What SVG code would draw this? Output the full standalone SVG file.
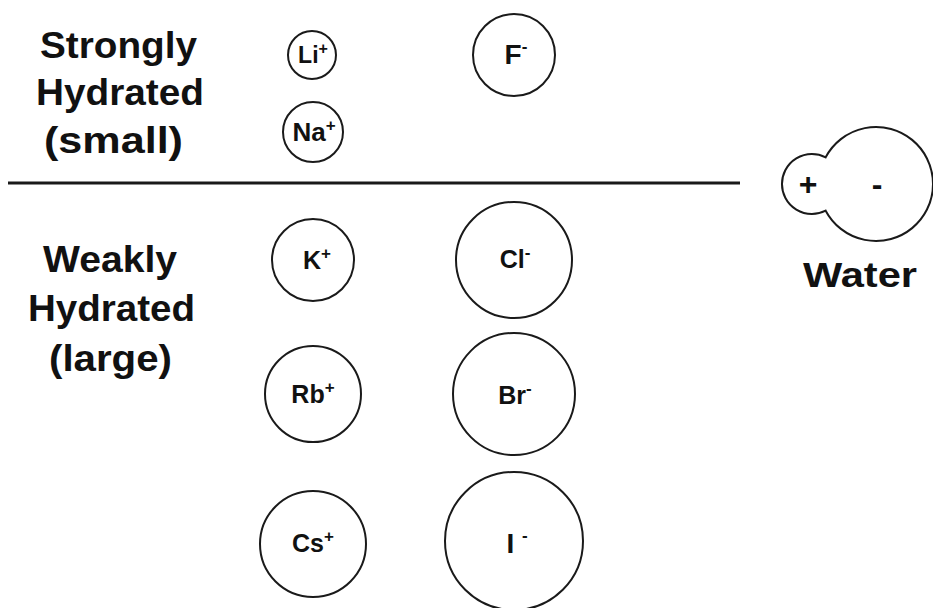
<svg xmlns="http://www.w3.org/2000/svg" width="933" height="608" viewBox="0 0 933 608">
<style>
.bg{fill:#fff}
.ion{fill:#fff;stroke:#1a1a1a;stroke-width:2}
.lbl{font-family:"Liberation Sans",Arial,sans-serif;font-weight:bold;fill:#111;text-anchor:middle}
.ionlbl{font-size:25px}
.sup{font-size:17px}
.head{font-family:"Liberation Sans",Arial,sans-serif;font-weight:bold;fill:#111;font-size:36px}
</style>
<rect class="bg" x="0" y="0" width="933" height="608"/>
<g id="heading-strong">
<text class="head" x="40" y="58" textLength="157" lengthAdjust="spacingAndGlyphs">Strongly</text>
<text class="head" x="36" y="105" textLength="168" lengthAdjust="spacingAndGlyphs">Hydrated</text>
<text class="head" x="44" y="153" textLength="139" lengthAdjust="spacingAndGlyphs">(small)</text>
</g>
<g id="heading-weak">
<text class="head" x="43" y="272" textLength="134" lengthAdjust="spacingAndGlyphs">Weakly</text>
<text class="head" x="28" y="321" textLength="167" lengthAdjust="spacingAndGlyphs">Hydrated</text>
<text class="head" x="49" y="371" textLength="123" lengthAdjust="spacingAndGlyphs">(large)</text>
</g>
<line id="divider" x1="8" y1="183" x2="740" y2="183" stroke="#1a1a1a" stroke-width="3"/>
<g id="li">
<circle class="ion" cx="312" cy="55" r="24"/>
<text class="lbl ionlbl" x="313" y="63" style="font-size:23px">Li<tspan class="sup" dy="-9" style="font-size:16px">+</tspan></text>
</g>
<g id="na">
<circle class="ion" cx="313" cy="132" r="30"/>
<text class="lbl ionlbl" x="314" y="141" style="font-size:26px">Na<tspan class="sup" dy="-10">+</tspan></text>
</g>
<g id="f">
<circle class="ion" cx="514" cy="55" r="41"/>
<text class="lbl ionlbl" x="516" y="64" style="font-size:28px">F<tspan class="sup" dy="-12">-</tspan></text>
</g>
<g id="k">
<circle class="ion" cx="313" cy="260" r="41"/>
<text class="lbl ionlbl" x="317" y="269">K<tspan class="sup" dy="-10">+</tspan></text>
</g>
<g id="cl">
<circle class="ion" cx="514" cy="260" r="58"/>
<text class="lbl ionlbl" x="515" y="268">Cl<tspan class="sup" dy="-10">-</tspan></text>
</g>
<g id="rb">
<circle class="ion" cx="313" cy="394" r="48"/>
<text class="lbl ionlbl" x="313" y="403">Rb<tspan class="sup" dy="-10">+</tspan></text>
</g>
<g id="br">
<circle class="ion" cx="514" cy="394" r="61"/>
<text class="lbl ionlbl" x="515" y="404">Br<tspan class="sup" dy="-10">-</tspan></text>
</g>
<g id="cs">
<circle class="ion" cx="313" cy="544" r="53"/>
<text class="lbl ionlbl" x="313" y="552">Cs<tspan class="sup" dy="-10">+</tspan></text>
</g>
<g id="i">
<circle class="ion" cx="514" cy="541" r="69"/>
<text class="lbl ionlbl" x="517" y="553" style="font-size:28px">I <tspan class="sup" dy="-12">-</tspan></text>
</g>
<g id="water">
<path class="ion" d="M 825.65 157.3 A 30 30 0 1 0 825.65 210.7 A 57 57 0 1 0 825.65 157.3 Z"/>
<text class="lbl" x="808" y="195" style="font-size:32px">+</text>
<text class="lbl" x="877" y="195" style="font-size:32px">-</text>
<text class="lbl" x="860" y="287" style="font-size:35px" textLength="114" lengthAdjust="spacingAndGlyphs">Water</text>
</g>
<g id="connectors"/>
</svg>
